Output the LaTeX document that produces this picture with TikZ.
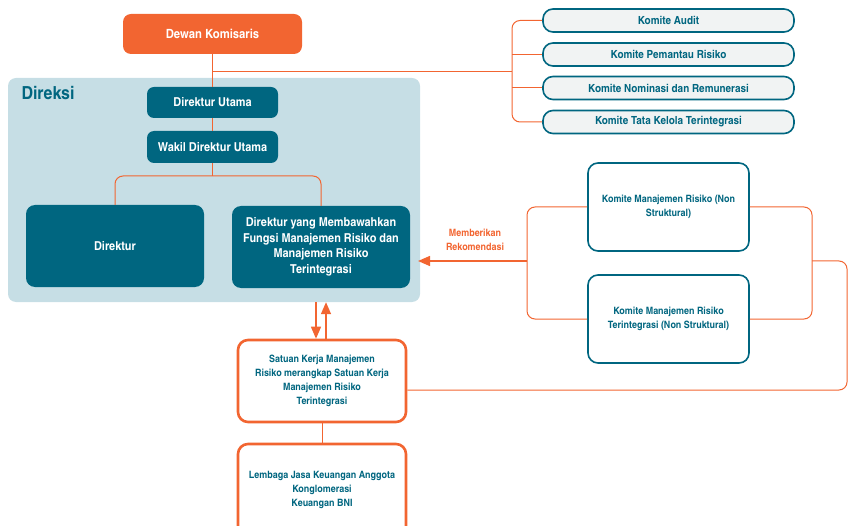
\documentclass[tikz,border=0pt]{standalone}
\usepackage{fontspec}
\setmainfont{TeX Gyre Heros Cn}[FakeStretch=1.08, BoldFont={TeX Gyre Heros Cn Bold}, BoldFeatures={FakeStretch=1.08}]
\usepackage{xcolor}
\usetikzlibrary{arrows.meta,positioning}

\definecolor{bniorange}{HTML}{F26531}
\definecolor{bniteal}{HTML}{006680}
\definecolor{bnipanel}{HTML}{C6DEE5}
\definecolor{bnigray}{HTML}{F1F3F3}

\tikzset{
  orangebox/.style={fill=bniorange, text=white, rounded corners=8pt, font=\bfseries\fontsize{12.7}{14}\selectfont},
  tealbox/.style={fill=bniteal, text=white, rounded corners=7pt, align=center, font=\bfseries\fontsize{12.3}{15.6}\selectfont},
  komitebox/.style={draw=bniteal, line width=1.6pt, fill=bnigray, text=bniteal, rounded corners=10pt,
    minimum width=251pt, minimum height=23pt, font=\bfseries\fontsize{11.2}{13}\selectfont},
  riskbox/.style={draw=bniteal, line width=1.6pt, fill=white, text=bniteal, rounded corners=10pt, align=center,
    minimum width=161pt, minimum height=88pt, font=\bfseries\fontsize{10.1}{13.5}\selectfont},
  unitbox/.style={draw=bniorange, line width=2.6pt, fill=white, text=bniteal, rounded corners=10pt, align=center,
    minimum width=168pt, font=\bfseries\fontsize{10.1}{14}\selectfont},
  link/.style={draw=bniorange, line width=1pt},
  arrowlink/.style={link, line width=1.4pt, -{Triangle[width=10pt,length=12pt]}}
}

\begin{document}
\begin{tikzpicture}[x=1pt, y=-1pt]
\useasboundingbox (0,0) rectangle (850,526);

% Direksi panel
\node[fill=bnipanel, rounded corners=8pt, minimum width=412pt, minimum height=224pt] (direksi) at (214,190) {};
\node[anchor=west, text=bniteal, font=\bfseries\fontsize{18}{20}\selectfont] (direksilabel) at (18,93) {Direksi};

% Board and directors
\node[orangebox, minimum width=179pt, minimum height=40pt] (dewan) at (212.5,34) {Dewan Komisaris};
\node[tealbox, minimum width=131pt, minimum height=31pt] (utama) at (212.5,102.5) {Direktur Utama};
\node[tealbox, minimum width=131pt, minimum height=32pt] (wakil) at (212.5,147) {Wakil Direktur Utama};
\node[tealbox, rounded corners=9pt, minimum width=178pt, minimum height=82pt] (direktur) at (115,246) {Direktur};
\node[tealbox, rounded corners=9pt, minimum width=178pt, minimum height=82pt] (dirrisk) at (321,247)
  {Direktur yang Membawahkan\\Fungsi Manajemen Risiko dan\\Manajemen Risiko\\Terintegrasi};

% Committees of the board
\node[komitebox] (audit) at (668.5,20.5) {Komite Audit};
\node[komitebox] (pantau) at (668.5,54.5) {Komite Pemantau Risiko};
\node[komitebox] (nominasi) at (668.5,88) {Komite Nominasi dan Remunerasi};
\node[komitebox] (tatakelola) at (668.5,122) {Komite Tata Kelola Terintegrasi};

% Risk committees
\node[riskbox] (kmr) at (668.5,207) {Komite Manajemen Risiko (Non\\Struktural)};
\node[riskbox] (kmrt) at (668.5,319) {Komite Manajemen Risiko\\Terintegrasi (Non Struktural)};
\node[text=bniorange, align=center, font=\bfseries\fontsize{10.1}{13.5}\selectfont] (rekom) at (475,240)
  {Memberikan\\Rekomendasi};

% Risk units
\node[unitbox, minimum height=82pt] (satuan) at (322,381)
  {Satuan Kerja Manajemen\\Risiko merangkap Satuan Kerja\\Manajemen Risiko\\Terintegrasi};
\node[unitbox, minimum height=92pt] (lembaga) at (322,490)
  {Lembaga Jasa Keuangan Anggota\\Konglomerasi\\Keuangan BNI};

% Joints
\coordinate (djoin) at (212.5,72);
\coordinate (kjoin) at (512,72);
\coordinate (tjoin) at (212.5,176);
\coordinate (rjoin) at (527,261);
\coordinate (ljoin) at (812,261);
\coordinate (rtip) at (418,261);
\coordinate (rback) at (847,390);

% Connectors
\draw[link] (dewan.south) -- (utama.north);
\draw[link] (utama.south) -- (wakil.north);
\draw[link] (djoin) -- (kjoin);
\draw[link, rounded corners=8pt] (audit.west) -| (kjoin) |- (tatakelola.west);
\draw[link] (pantau.west) -- (pantau.west -| kjoin);
\draw[link] (nominasi.west) -- (nominasi.west -| kjoin);
\draw[link] (wakil.south) -- (tjoin);
\draw[link, rounded corners=8pt] (direktur.north) |- (tjoin) -| (dirrisk.north);
\draw[link, rounded corners=8pt] (kmr.west) -| (rjoin) |- (kmrt.west);
\draw[arrowlink] (rjoin) -- (rtip);
\draw[link, rounded corners=8pt] (kmr.east) -| (ljoin) |- (kmrt.east);
\draw[link, rounded corners=8pt] (ljoin) -| (rback) -- (rback -| satuan.east);
\draw[arrowlink] ([xshift=-6pt]satuan.north |- direksi.south) -- ([xshift=-6pt]satuan.north);
\draw[arrowlink] ([xshift=4pt]satuan.north) -- ([xshift=4pt]satuan.north |- direksi.south);
\draw[link] (satuan.south) -- (lembaga.north);

\end{tikzpicture}
\end{document}
